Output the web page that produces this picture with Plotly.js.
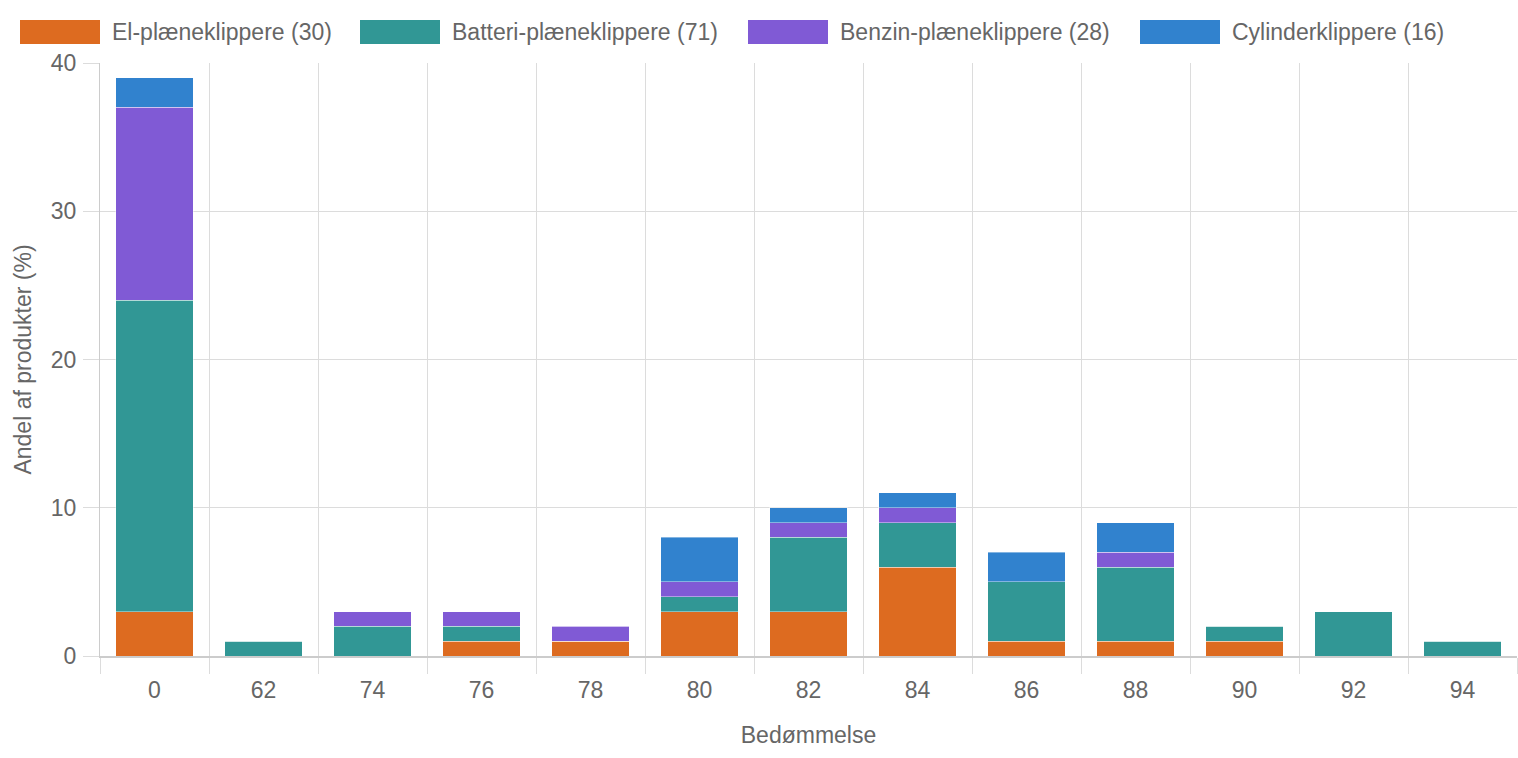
<!doctype html>
<html>
<head>
  <meta charset="utf-8">
  <title>Bedømmelse</title>
  <script src="https://cdn.plot.ly/plotly-3.0.1.min.js"></script>
  <style>
    body { margin: 0; background: #fff; }
    #chart { width: 1518px; height: 758px; }
  </style>
</head>
<body>
  <div id="chart"></div>
  <script>
    // categories (score) and share of products per type (%)
    var scores = ['0', '62', '74', '76', '78', '80', '82', '84', '86', '88', '90', '92', '94'];
    var elValues      = [3, 0, 0, 1, 1, 3, 3, 6, 1, 1, 1, 0, 0];
    var batteriValues = [21, 1, 2, 1, 0, 1, 5, 3, 4, 5, 1, 3, 1];
    var benzinValues  = [13, 0, 1, 1, 1, 1, 1, 1, 0, 1, 0, 0, 0];
    var cylValues     = [2, 0, 0, 0, 0, 3, 1, 1, 2, 2, 0, 0, 0];

    var seriesNames = ['El-plæneklippere (30)', 'Batteri-plæneklippere (71)', 'Benzin-plæneklippere (28)', 'Cylinderklippere (16)'];
    var seriesColors = ['#DD6B20', '#319795', '#805AD5', '#3182CE'];
    var seriesValues = [elValues, batteriValues, benzinValues, cylValues];

    var fontFamily = '"Liberation Sans", Arial, Helvetica, sans-serif';
    var textSize = 23;

    var traces = seriesValues.map(function(vals, i) {
      return {
        type: 'bar',
        name: seriesNames[i],
        x: scores,
        y: vals,
        marker: {
          color: seriesColors[i],
          line: { color: 'rgba(255,255,255,0.4)', width: 1 }
        },
        hovertemplate: '%{x}: %{y}%<extra>' + seriesNames[i] + '</extra>'
      };
    });

    // legend drawn as wide swatches, like the original
    var plotLeft = 100, plotWidth = 1417, plotTop = 63, plotHeight = 593;
    var swatchX = [20, 360, 748, 1140];
    function px(x) { return (x - plotLeft) / plotWidth; }
    function py(y) { return 1 - (y - plotTop) / plotHeight; }

    var shapes = [];
    var annotations = [];
    seriesNames.forEach(function(name, i) {
      shapes.push({
        type: 'rect', xref: 'paper', yref: 'paper',
        x0: px(swatchX[i]), x1: px(swatchX[i] + 80),
        y0: py(44), y1: py(20),
        fillcolor: seriesColors[i], line: { width: 0 }
      });
      annotations.push({
        xref: 'paper', yref: 'paper',
        x: px(swatchX[i] + 90), y: py(32),
        xanchor: 'left', yanchor: 'middle',
        text: name, showarrow: false,
        font: { family: fontFamily, size: textSize, color: '#666' }
      });
    });

    var layout = {
      width: 1518,
      height: 758,
      margin: { l: plotLeft, r: 1, t: plotTop, b: 102 },
      barmode: 'stack',
      bargap: 0.285,
      showlegend: false,
      paper_bgcolor: '#fff',
      plot_bgcolor: '#fff',
      font: { family: fontFamily, size: textSize, color: '#666' },
      xaxis: {
        type: 'category',
        tickson: 'boundaries',
        ticks: 'outside',
        ticklen: 16,
        tickcolor: '#dcdcdc',
        ticklabelstandoff: 12,
        showgrid: true,
        gridcolor: '#dcdcdc',
        showline: true,
        linecolor: '#cccccc',
        linewidth: 2,
        tickfont: { size: textSize, color: '#666' },
        title: { text: 'Bedømmelse', font: { size: textSize, color: '#666' }, standoff: 25 }
      },
      yaxis: {
        range: [0, 40],
        dtick: 10,
        ticks: 'outside',
        ticklen: 16,
        tickcolor: '#dcdcdc',
        ticklabelstandoff: 2,
        gridcolor: '#dcdcdc',
        showline: true,
        linecolor: '#cccccc',
        zeroline: false,
        tickfont: { size: textSize, color: '#666' },
        title: { text: 'Andel af produkter (%)', font: { size: textSize, color: '#666' }, standoff: 12 }
      },
      shapes: shapes,
      annotations: annotations
    };

    Plotly.newPlot('chart', traces, layout, { displayModeBar: false, responsive: false });
  </script>
</body>
</html>
